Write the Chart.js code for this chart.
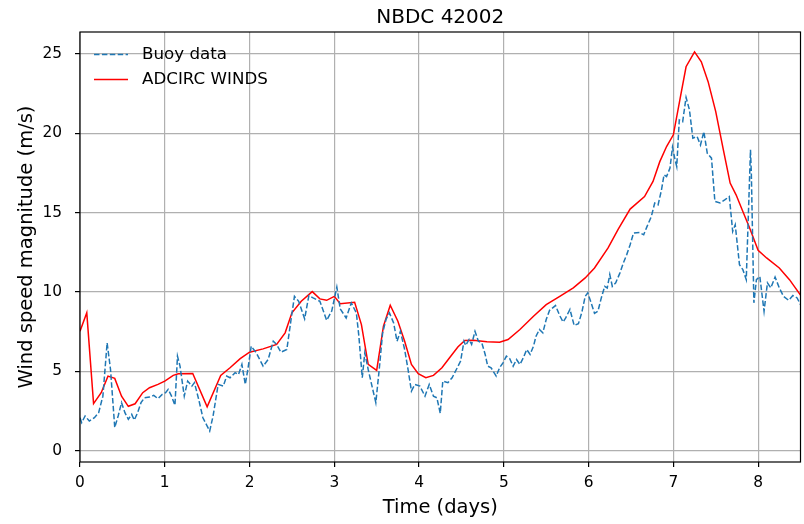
<!DOCTYPE html>
<html>
<head>
<meta charset="utf-8">
<title>NBDC 42002</title>
<script src="https://cdn.jsdelivr.net/npm/chart.js@4"></script>
<style>
  html, body { margin: 0; padding: 0; background: #fff; }
  #wrap { width: 804px; height: 524px; }
</style>
</head>
<body>
<div id="wrap"><canvas id="windChart" width="804" height="524"></canvas></div>
<script>
// Buoy observations (days, m/s)
const buoyTime = [
  0.00, 0.02, 0.06, 0.11, 0.17, 0.22, 0.27, 0.32, 0.36, 0.41, 0.45, 0.49, 0.53, 0.57, 0.61, 0.64,
  0.68, 0.72, 0.76, 0.82, 0.87, 0.92, 0.97, 1.01, 1.04, 1.08, 1.12, 1.15, 1.18, 1.23, 1.27, 1.32,
  1.35, 1.40, 1.45, 1.49, 1.53, 1.57, 1.63, 1.69, 1.73, 1.77, 1.83, 1.87, 1.91, 1.95, 1.98, 2.02,
  2.08, 2.16, 2.22, 2.28, 2.32, 2.37, 2.44, 2.49, 2.53, 2.58, 2.65, 2.70, 2.75, 2.83, 2.91, 2.97,
  3.03, 3.07, 3.14, 3.20, 3.26, 3.29, 3.33, 3.36, 3.40, 3.44, 3.49, 3.53, 3.57, 3.61, 3.65, 3.70,
  3.74, 3.78, 3.83, 3.87, 3.91, 3.95, 4.01, 4.07, 4.12, 4.17, 4.21, 4.25, 4.28, 4.34, 4.39, 4.44,
  4.49, 4.53, 4.55, 4.59, 4.62, 4.66, 4.70, 4.74, 4.78, 4.81, 4.85, 4.91, 4.95, 4.99, 5.03, 5.07,
  5.11, 5.15, 5.19, 5.23, 5.27, 5.31, 5.35, 5.38, 5.42, 5.46, 5.50, 5.54, 5.61, 5.66, 5.70, 5.73,
  5.78, 5.83, 5.88, 5.92, 5.96, 5.99, 6.03, 6.07, 6.11, 6.15, 6.19, 6.22, 6.25, 6.28, 6.32, 6.37,
  6.41, 6.45, 6.49, 6.53, 6.60, 6.65, 6.69, 6.74, 6.78, 6.82, 6.86, 6.89, 6.92, 6.96, 6.99, 7.02,
  7.04, 7.07, 7.11, 7.15, 7.19, 7.23, 7.28, 7.32, 7.36, 7.40, 7.45, 7.49, 7.55, 7.61, 7.66, 7.70,
  7.73, 7.78, 7.82, 7.86, 7.91, 7.92, 7.95, 7.98, 8.02, 8.07, 8.11, 8.15, 8.20, 8.25, 8.30, 8.36,
  8.41, 8.46, 8.50
];
const buoySpeed = [
  2.07, 1.76, 2.18, 1.86, 2.07, 2.39, 3.43, 6.79, 5.11, 1.45, 2.18, 3.02, 2.39, 1.97, 2.28, 1.92,
  2.39, 3.02, 3.33, 3.37, 3.48, 3.27, 3.54, 3.65, 3.86, 3.43, 2.85, 5.95, 5.32, 3.43, 4.38, 4.06,
  4.28, 3.23, 2.07, 1.65, 1.23, 2.18, 4.17, 4.06, 4.69, 4.59, 4.91, 4.80, 5.43, 4.17, 5.11, 6.58,
  6.16, 5.32, 5.74, 6.89, 6.69, 6.20, 6.37, 8.26, 9.72, 9.41, 8.30, 9.77, 9.62, 9.41, 8.21, 8.80,
  10.30, 8.93, 8.36, 9.31, 8.68, 7.21, 4.59, 6.16, 5.11, 4.17, 3.02, 5.11, 7.42, 8.26, 8.68, 8.05,
  6.89, 7.52, 6.37, 5.11, 3.75, 4.17, 4.06, 3.43, 4.17, 3.43, 3.33, 2.35, 4.38, 4.28, 4.59, 5.11,
  5.64, 6.89, 6.62, 7.00, 6.69, 7.52, 6.89, 6.79, 6.06, 5.32, 5.22, 4.69, 5.22, 5.53, 5.95, 5.79,
  5.32, 5.74, 5.43, 5.85, 6.37, 6.06, 6.58, 7.21, 7.63, 7.42, 8.26, 8.84, 9.14, 8.50, 8.10, 8.36,
  8.90, 7.88, 8.00, 8.70, 9.72, 9.94, 9.31, 8.65, 8.78, 9.62, 10.35, 10.25, 11.09, 10.35, 10.57, 11.20,
  11.82, 12.35, 12.97, 13.71, 13.75, 13.60, 14.13, 14.75, 15.60, 15.49, 16.43, 17.38, 17.27, 17.80, 19.12, 18.32,
  17.90, 20.84, 20.73, 22.26, 21.47, 19.69, 19.79, 19.26, 20.10, 18.74, 18.43, 15.70, 15.60, 15.81, 16.01, 13.81,
  14.23, 11.72, 11.40, 10.77, 18.95, 17.48, 9.31, 10.77, 10.98, 8.78, 10.57, 10.25, 10.94, 10.25, 9.72, 9.47,
  9.77, 9.62, 9.20
];

// ADCIRC modelled winds (days, m/s)
const adcircTime = [
  0.00, 0.08, 0.16, 0.25, 0.33, 0.41, 0.49, 0.57, 0.65, 0.74, 0.82, 0.92, 1.00, 1.10, 1.16, 1.33,
  1.50, 1.66, 1.77, 1.89, 2.00, 2.16, 2.32, 2.42, 2.50, 2.61, 2.74, 2.83, 2.91, 3.00, 3.07, 3.24,
  3.32, 3.40, 3.50, 3.58, 3.66, 3.75, 3.83, 3.91, 3.99, 4.08, 4.17, 4.27, 4.36, 4.46, 4.54, 4.64,
  4.80, 4.95, 5.05, 5.19, 5.35, 5.50, 5.66, 5.82, 5.96, 6.07, 6.23, 6.35, 6.49, 6.66, 6.76, 6.84,
  6.92, 7.00, 7.08, 7.15, 7.25, 7.33, 7.41, 7.50, 7.59, 7.67, 7.74, 7.82, 7.90, 8.00, 8.10, 8.25,
  8.37, 8.50
];
const adcircSpeed = [
  7.52, 8.68, 2.96, 3.65, 4.69, 4.55, 3.43, 2.79, 2.95, 3.65, 3.96, 4.17, 4.38, 4.74, 4.84, 4.86,
  2.76, 4.74, 5.22, 5.79, 6.20, 6.41, 6.69, 7.42, 8.68, 9.41, 10.02, 9.56, 9.47, 9.72, 9.26, 9.35,
  7.94, 5.43, 5.05, 7.84, 9.16, 8.15, 6.89, 5.43, 4.84, 4.59, 4.74, 5.22, 5.85, 6.54, 6.94, 6.96,
  6.86, 6.83, 7.00, 7.63, 8.47, 9.20, 9.72, 10.25, 10.88, 11.51, 12.77, 13.96, 15.22, 16.01, 16.96, 18.21,
  19.16, 19.90, 22.20, 24.19, 25.13, 24.50, 23.25, 21.36, 18.95, 16.86, 16.12, 15.07, 14.03, 12.62, 12.14, 11.51,
  10.77, 9.80
];

const xTicks = [0, 1, 2, 3, 4, 5, 6, 7, 8];
const yTicks = [0, 5, 10, 15, 20, 25];
const seriesNames = ['Buoy data', 'ADCIRC WINDS'];

const FONT = 'DejaVu Sans';
Chart.defaults.font.family = FONT;
Chart.defaults.color = '#000';

const toPoints = (xs, ys) => xs.map((x, i) => ({ x, y: ys[i] }));

// matplotlib-like pieces: title, frame around axes, legend without a box
const decorations = {
  id: 'decorations',
  afterDraw(chart) {
    const { ctx, chartArea: a } = chart;
    ctx.save();
    ctx.strokeStyle = '#000';
    ctx.lineWidth = 1.2;
    ctx.strokeRect(a.left, a.top, a.right - a.left, a.bottom - a.top);

    ctx.fillStyle = '#000';
    ctx.textAlign = 'center';
    ctx.textBaseline = 'middle';
    ctx.font = `20px "${FONT}"`;
    ctx.fillText('NBDC 42002', (a.left + a.right) / 2, 18);

    ctx.font = `16.7px "${FONT}"`;
    ctx.textAlign = 'left';
    chart.data.datasets.forEach((ds, i) => {
      const y = 54.5 + i * 25;
      ctx.beginPath();
      ctx.strokeStyle = ds.borderColor;
      ctx.lineWidth = ds.borderWidth;
      ctx.setLineDash(ds.borderDash || []);
      ctx.moveTo(94, y);
      ctx.lineTo(128, y);
      ctx.stroke();
      ctx.setLineDash([]);
      ctx.fillText(ds.label, 142, y);
    });
    ctx.restore();
  }
};

const gridStyle = {
  color: '#b0b0b0',
  lineWidth: 1.2,
  tickLength: 5,
  tickColor: '#000',
  tickWidth: 1.2
};

new Chart(document.getElementById('windChart'), {
  type: 'line',
  data: {
    datasets: [
      {
        label: seriesNames[0],
        data: toPoints(buoyTime, buoySpeed),
        borderColor: '#1f77b4',
        borderWidth: 1.5,
        borderDash: [5.5, 2.4],
        pointRadius: 0,
        tension: 0,
        fill: false
      },
      {
        label: seriesNames[1],
        data: toPoints(adcircTime, adcircSpeed),
        borderColor: '#ff0000',
        borderWidth: 1.5,
        pointRadius: 0,
        tension: 0,
        fill: false
      }
    ]
  },
  options: {
    responsive: false,
    devicePixelRatio: 1,
    animation: false,
    layout: { padding: { top: 32, right: 3.5, left: 0, bottom: 0 } },
    plugins: { legend: { display: false }, tooltip: { enabled: false } },
    scales: {
      x: {
        type: 'linear',
        min: 0,
        max: 8.5,
        afterBuildTicks: s => { s.ticks = xTicks.map(v => ({ value: v })); },
        afterFit: s => { s.height = 62; },
        ticks: { font: { size: 15.4 }, padding: 7, maxRotation: 0, autoSkip: false, color: '#000' },
        grid: gridStyle,
        border: { display: false },
        title: { display: true, text: 'Time (days)', font: { size: 19.5 }, padding: { top: 0, bottom: 4.3 }, color: '#000' }
      },
      y: {
        type: 'linear',
        min: -0.72,
        max: 26.38,
        afterBuildTicks: s => { s.ticks = yTicks.map(v => ({ value: v })); },
        afterFit: s => { s.width = 80; },
        ticks: { font: { size: 15.4 }, padding: 13, color: '#000' },
        grid: gridStyle,
        border: { display: false },
        title: { display: true, text: 'Wind speed magnitude (m/s)', font: { size: 19.5 }, padding: { top: 15.3, bottom: 0 }, color: '#000' }
      }
    }
  },
  plugins: [decorations]
});
</script>
</body>
</html>
